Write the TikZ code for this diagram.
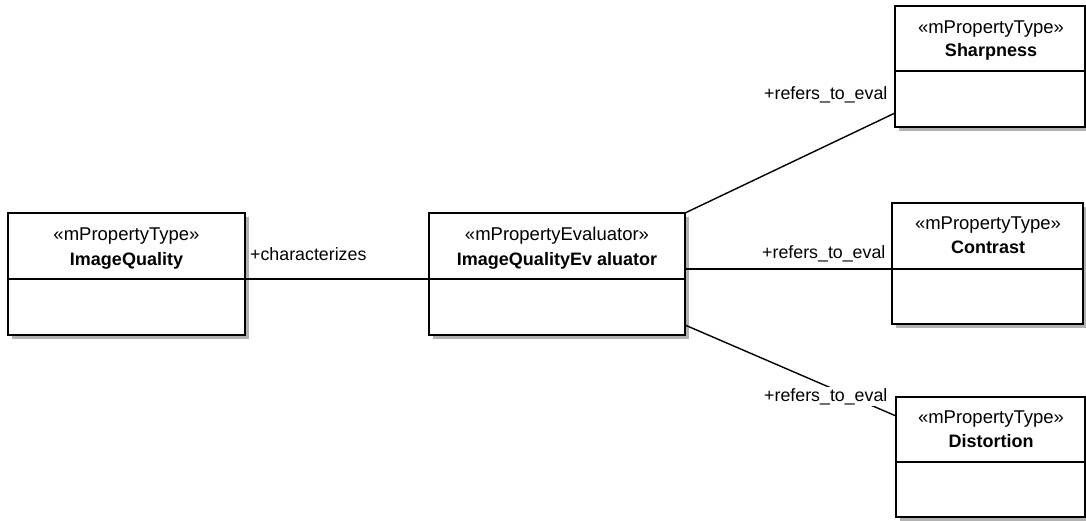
\documentclass[tikz,border=0pt]{standalone}
\usepackage{fontspec}
\setmainfont{Liberation Sans}
\usetikzlibrary{shadows}
\begin{document}
\begin{tikzpicture}[x=1pt,y=-1pt,
  font=\fontsize{18}{21}\selectfont,
  classbox/.style={draw=black, line width=1.8pt, fill=white, inner sep=0pt,
    drop shadow={shadow xshift=4pt, shadow yshift=-4pt, fill=black!30, opacity=1}},
  divider/.style={line width=1.8pt},
  stereo/.style={anchor=base, inner sep=0pt, font=\fontsize{18.5}{21}\selectfont},
  cname/.style={anchor=base, inner sep=0pt, font=\fontsize{18}{21}\selectfont\bfseries},
  assoc/.style={line width=1.4pt},
  role/.style={anchor=base west, inner sep=1pt, font=\fontsize{17.8}{21}\selectfont}]
\useasboundingbox (0,0) rectangle (1086,520);

% ImageQuality
\node[classbox, minimum width=237pt, minimum height=122pt] (iq) at (126.5,274) {};
\draw[divider] (8,279) -- (245,279);
\node[stereo] (iqs) at (126.5,240) {«mPropertyType»};
\node[cname] (iqn) at (126.5,265) {ImageQuality};

% ImageQualityEvaluator
\node[classbox, minimum width=256pt, minimum height=122pt] (ev) at (557,274) {};
\draw[divider] (429,279) -- (685,279);
\node[stereo] (evs) at (557,240) {«mPropertyEvaluator»};
\node[cname] (evn) at (557,265) {ImageQualityEv aluator};

% Sharpness
\node[classbox, minimum width=190pt, minimum height=121pt] (sh) at (990,66.5) {};
\draw[divider] (895,71) -- (1085,71);
\node[stereo] (shs) at (991,33) {«mPropertyType»};
\node[cname] (shn) at (991,56) {Sharpness};

% Contrast
\node[classbox, minimum width=191pt, minimum height=121pt] (co) at (987.5,263.5) {};
\draw[divider] (892,269) -- (1083,269);
\node[stereo] (cos) at (988,229) {«mPropertyType»};
\node[cname] (con) at (988,253) {Contrast};

% Distortion
\node[classbox, minimum width=189pt, minimum height=120pt] (di) at (990.5,457) {};
\draw[divider] (896,462) -- (1085,462);
\node[stereo] (dis) at (991,423) {«mPropertyType»};
\node[cname] (din) at (991,447) {Distortion};

% connector end points on the class borders
\coordinate (iqR) at (245,279);
\coordinate (evL) at (429,279);
\coordinate (evA) at (685,213);
\coordinate (evB) at (685,269);
\coordinate (evC) at (685,325);
\coordinate (shL) at (895,113);
\coordinate (coL) at (892,269);
\coordinate (diL) at (896,416);

\draw[assoc] (iqR) -- (evL);
\draw[assoc] (evA) -- (shL);
\draw[assoc] (evB) -- (coL);
\draw[assoc] (evC) -- (diL);

% role names
\node[role] (r0) at (249,260) {+characterizes};
\node[role] (r1) at (763,99) {+refers\_to\_eval};
\node[role] (r2) at (761,258) {+refers\_to\_eval};
\node[role, fill=white] (r3) at (763,401) {+refers\_to\_eval};
\end{tikzpicture}
\end{document}
